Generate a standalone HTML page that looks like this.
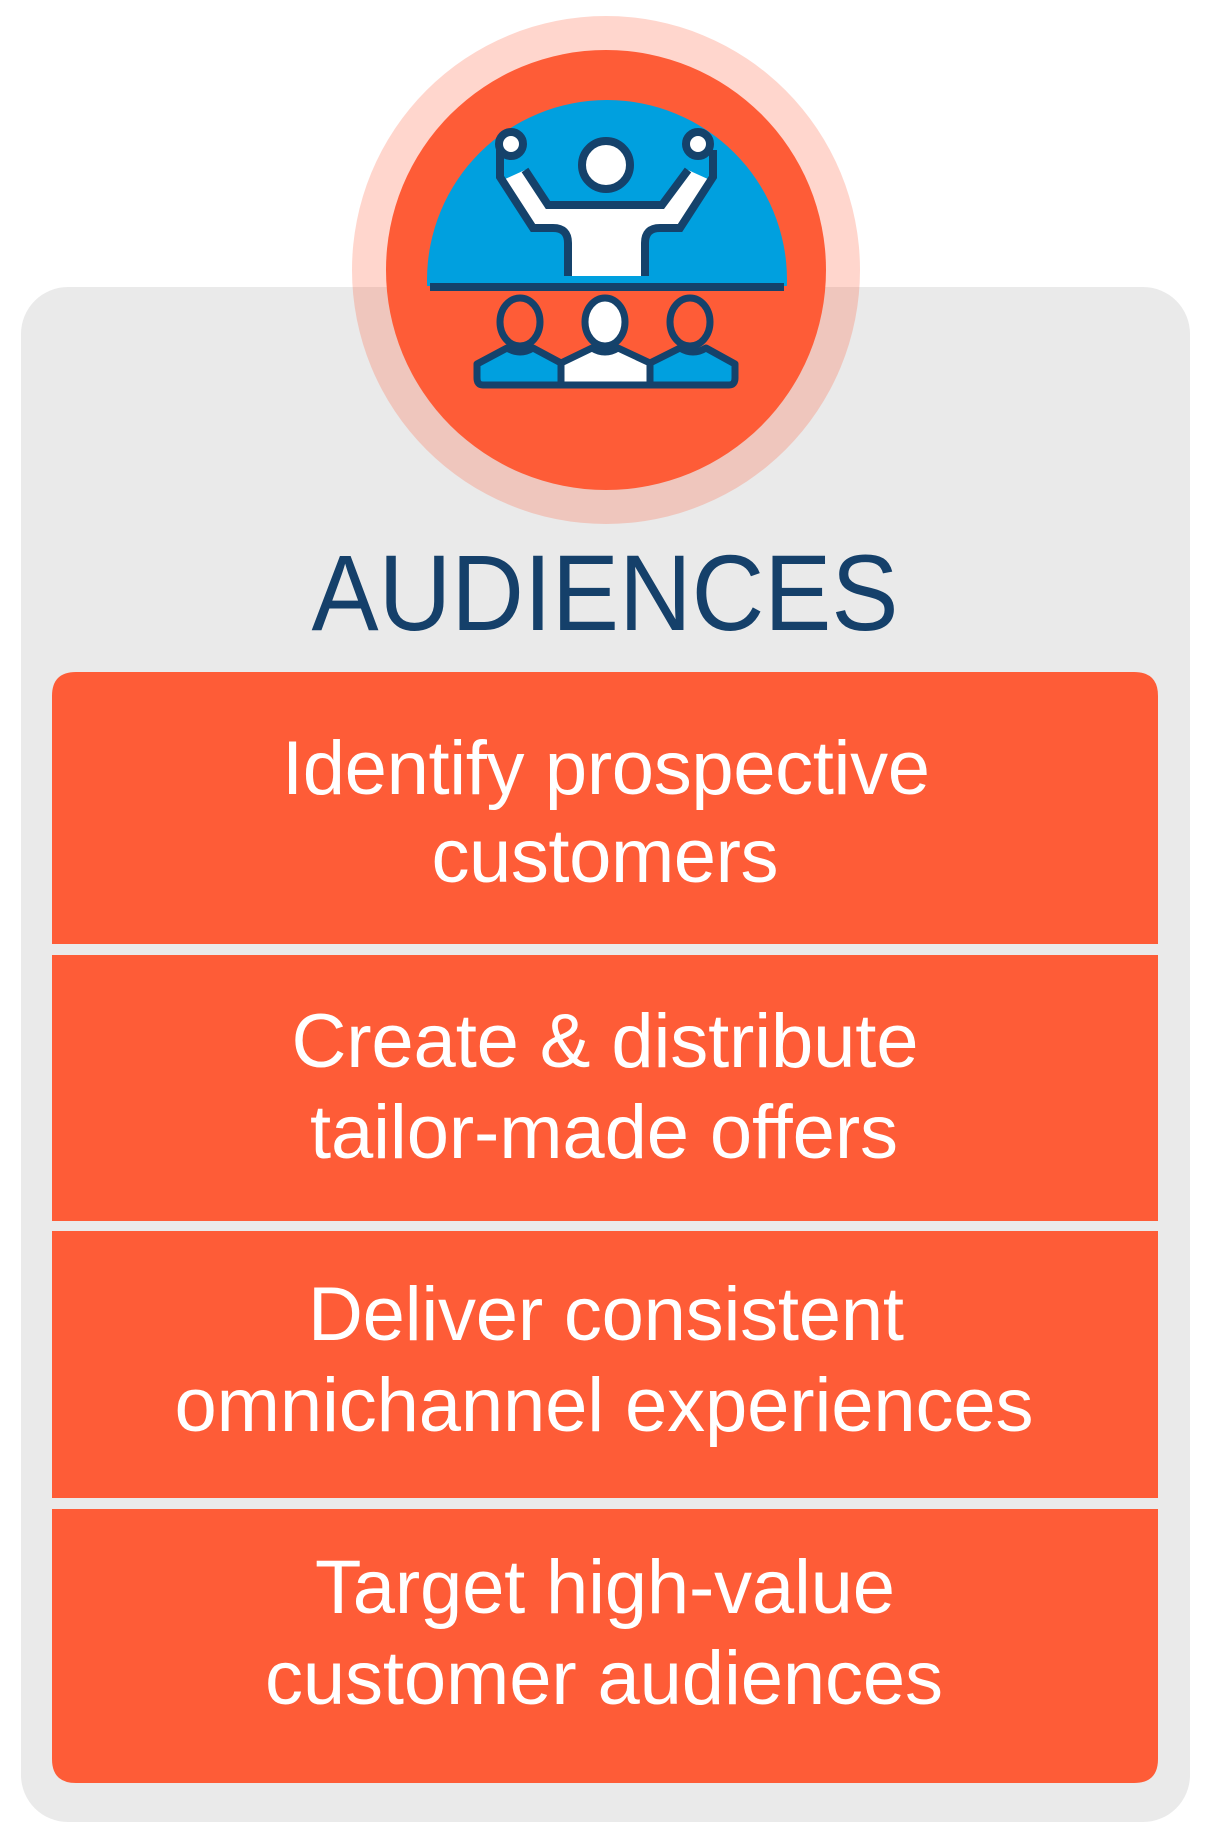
<!DOCTYPE html>
<html><head><meta charset="utf-8"><style>
html,body{margin:0;padding:0;background:#fff;}
svg{display:block;}
</style></head><body>
<svg width="1209" height="1843" viewBox="0 0 1209 1843" xmlns="http://www.w3.org/2000/svg">
<rect x="21" y="287" width="1169" height="1535" rx="47" fill="#eaeaea"/>
<circle cx="606" cy="270" r="254" fill="rgba(254,92,54,0.25)"/>
<circle cx="606" cy="270" r="220" fill="#fe5c37"/>
<!-- dome -->
<defs><clipPath id="dc"><rect x="400" y="80" width="420" height="206"/></clipPath></defs>
<circle cx="607" cy="280" r="180" fill="#00a0df" clip-path="url(#dc)"/>
<rect x="430" y="283" width="354" height="8" fill="#15426b"/>
<!-- raised person -->
<polygon points="503,180 525,170 548,205 662,205 688,170 710,180 678,228 657,228 645,236 642,245 642,276 568,276 568,245 565,236 555,228 533,228" fill="#fff"/>
<g fill="none" stroke="#15426b" stroke-width="8" stroke-linejoin="miter">
<path d="M500,150 L500,177 L533,228 L553,228 Q568,228 568,243 L568,276"/>
<path d="M525,170 L548,205 L662,205 L688,170"/>
<path d="M713,150 L713,177 L680,228 L660,228 Q645,228 645,243 L645,276"/>
</g>
<circle cx="606" cy="165" r="24" fill="#fff" stroke="#15426b" stroke-width="8"/>
<circle cx="511" cy="144" r="12" fill="#fff" stroke="#15426b" stroke-width="8"/>
<circle cx="698" cy="144" r="12" fill="#fff" stroke="#15426b" stroke-width="8"/>
<!-- audience -->
<g stroke="#15426b" stroke-width="7" stroke-linejoin="round">
<path d="M477,364 L507,348 Q520,356 533,348 L561,363 L561,385 L483,385 Q477,385 477,378 Z" fill="#00a0df"/>
<path d="M561,363 L592,348 Q605,356 618,348 L650,363 L650,385 L561,385 Z" fill="#fff"/>
<path d="M650,363 L680,348 Q693,356 706,348 L735,364 L735,378 Q735,385 729,385 L650,385 Z" fill="#00a0df"/>
<ellipse cx="520" cy="322" rx="20" ry="24" fill="#fe5c37"/>
<ellipse cx="605" cy="322" rx="20" ry="24" fill="#fff"/>
<ellipse cx="690" cy="322" rx="20" ry="24" fill="#fe5c37"/>
</g>
<text x="605" y="630" font-family="Liberation Sans, Arial, sans-serif" font-size="108" fill="#15406a" text-anchor="middle" textLength="587" lengthAdjust="spacingAndGlyphs">AUDIENCES</text>
<!-- rows -->
<path d="M52,696 Q52,672 76,672 L1134,672 Q1158,672 1158,696 L1158,944 L52,944 Z" fill="#fe5c37"/>
<rect x="52" y="955" width="1106" height="266" fill="#fe5c37"/>
<rect x="52" y="1231" width="1106" height="267" fill="#fe5c37"/>
<path d="M52,1509 L1158,1509 L1158,1759 Q1158,1783 1134,1783 L76,1783 Q52,1783 52,1759 Z" fill="#fe5c37"/>
<g font-family="Liberation Sans, Arial, sans-serif" font-size="76" fill="#fff" text-anchor="middle" lengthAdjust="spacingAndGlyphs">
<text x="606" y="794" textLength="648">Identify prospective</text>
<text x="605" y="882" textLength="347">customers</text>
<text x="605" y="1067" textLength="627">Create &amp; distribute</text>
<text x="604" y="1158" textLength="588">tailor-made offers</text>
<text x="606" y="1340" textLength="596">Deliver consistent</text>
<text x="604" y="1431" textLength="859">omnichannel experiences</text>
<text x="605" y="1613" textLength="580">Target high-value</text>
<text x="604" y="1704" textLength="678">customer audiences</text>
</g>
</svg>
</body></html>
